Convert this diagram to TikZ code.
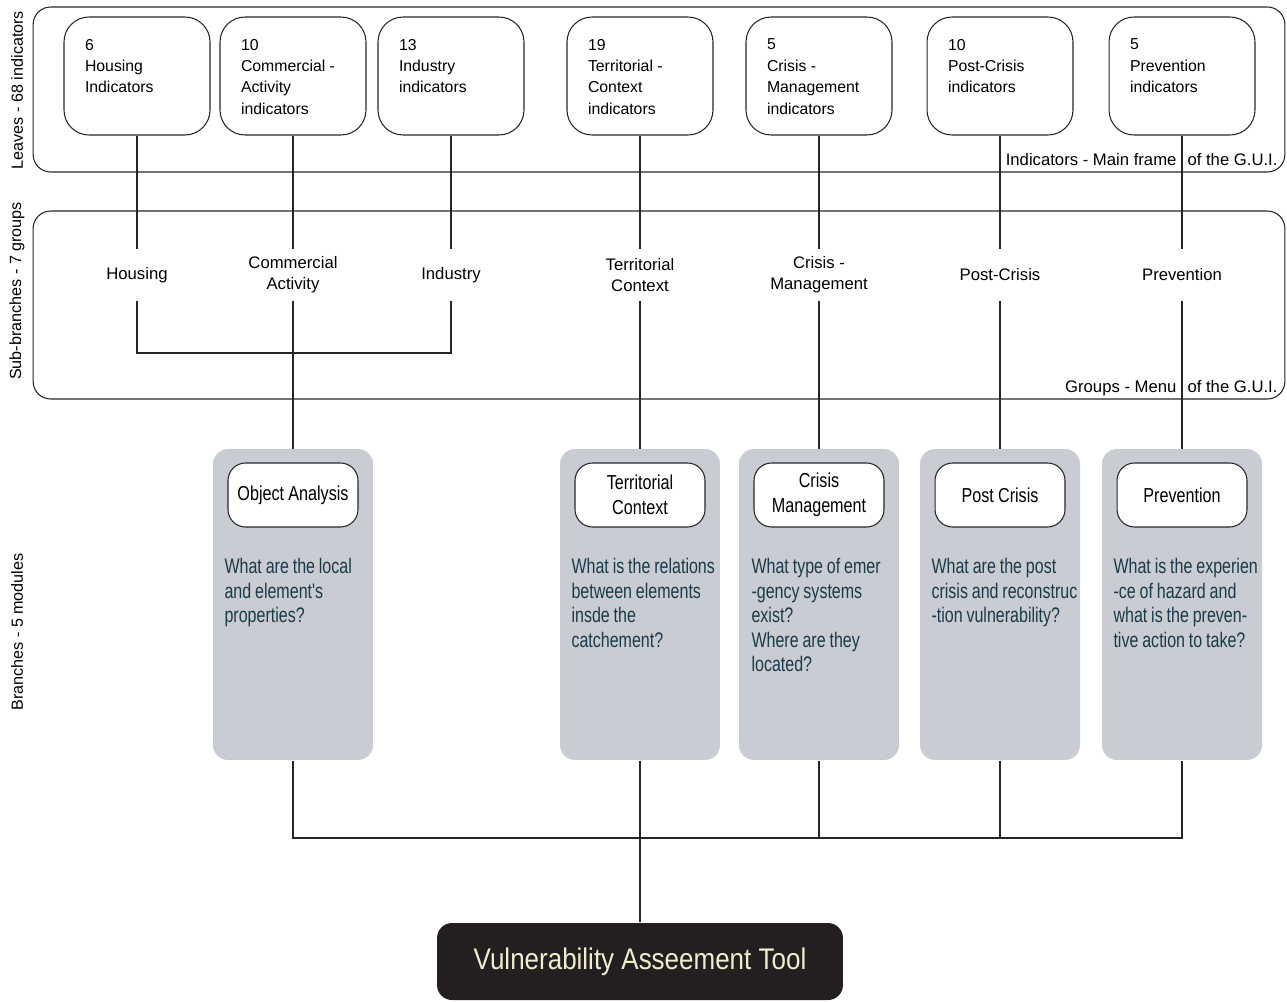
\documentclass[tikz,border=0pt]{standalone}
\usepackage{fontspec}
\setmainfont{Liberation Sans}
\newfontfamily\narrowfont[FakeStretch=0.76]{Liberation Sans}
\newfontfamily\labelfont[FakeStretch=0.80]{Liberation Sans}
\newfontfamily\toolfont[FakeStretch=0.87]{Liberation Sans}
\usepackage{tikz}
\definecolor{modulegray}{RGB}{201,204,211}
\definecolor{questionblue}{RGB}{26,58,74}
\definecolor{tooldark}{RGB}{35,31,32}
\definecolor{toolcream}{RGB}{240,236,205}
\newcommand{\leaftext}[1]{\begin{minipage}[t][1.48cm][t]{2.08cm}\raggedright #1\end{minipage}}
\newcommand{\titlefont}{\labelfont\fontsize{11.5}{14.2}\selectfont\spaceskip 2.4pt plus 1pt\relax}
\newcommand{\questionfont}{\narrowfont\fontsize{12}{13.9}\selectfont\spaceskip 2.2pt plus 1pt minus .5pt\relax}

\begin{document}
\begin{tikzpicture}[x=0.02cm, y=-0.02cm, line width=0.6pt, draw=black!85]
		\tikzstyle{frame_item} = [rectangle, rounded corners=0.35cm, draw, minimum
		width=25.04cm, inner sep=0]
		\tikzstyle{leaf_item} = [rectangle, rounded corners=0.5cm, draw, fill=white,
		inner xsep=0.42cm, inner ysep=0.44cm, font=\fontsize{9}{12.2}\selectfont]
		\tikzstyle{group_item} = [rectangle, minimum height=1cm, inner sep=0,
		align=flush center, font=\fontsize{9.5}{11.9}\selectfont]
		\tikzstyle{module_item} = [rectangle, rounded corners=0.3cm, fill=modulegray,
		minimum width=3.2cm, minimum height=6.22cm, inner sep=0]
		\tikzstyle{title_item} = [rectangle, rounded corners=0.35cm, draw, fill=white,
		minimum width=2.6cm, minimum height=1.28cm, inner sep=0, align=flush center,
		font=\titlefont]
		\tikzstyle{question_item} = [anchor=north west, inner sep=0, text width=3.1cm,
		align=flush left, text=questionblue, font=\questionfont]
		\tikzstyle{tool_item} = [rectangle, rounded corners=0.3cm, fill=tooldark,
		text=toolcream, minimum width=8.12cm, minimum height=1.54cm,
		font=\toolfont\fontsize{17}{20}\selectfont]
		\tikzstyle{side_label} = [rotate=90, inner sep=0, font=\fontsize{9.2}{11}\selectfont]
		\tikzstyle{frame_label} = [inner sep=0, font=\fontsize{9.5}{11}\selectfont]
		\useasboundingbox (0,0) rectangle (1287,1001);
		\node[frame_item, minimum height=3.3cm] (leaves) at (659, 89.5) {};
		\node[frame_item, minimum height=3.76cm] (groups) at (659, 305) {};
		\node[side_label] (leaveslabel) at (17, 90) {Leaves - 68 indicators};
		\node[side_label] (groupslabel) at (17, 291) {Sub-branches - 7 groups};
		\node[side_label] (moduleslabel) at (17, 632) {Branches - 5 modules};
		\node[frame_label, anchor=base east] (leavesnote) at (1177, 165) {Indicators - Main frame};
		\node[frame_label, anchor=base west] (leavesgui) at (1187, 165) {of the G.U.I.};
		\node[frame_label, anchor=base east] (groupsnote) at (1177, 392) {Groups - Menu};
		\node[frame_label, anchor=base west] (groupsgui) at (1187, 392) {of the G.U.I.};
		\node[leaf_item] (lhousing) at (137, 76) {\leaftext{6\\Housing\\Indicators}};
		\node[leaf_item] (lcommercial) at (293, 76) {\leaftext{10\\Commercial -\\Activity\\indicators}};
		\node[leaf_item] (lindustry) at (451, 76) {\leaftext{13\\Industry\\indicators}};
		\node[leaf_item] (lterritorial) at (640, 76) {\leaftext{19\\Territorial -\\Context\\indicators}};
		\node[leaf_item] (lcrisis) at (819, 76) {\leaftext{5\\Crisis -\\Management\\indicators}};
		\node[leaf_item] (lpost) at (1000, 76) {\leaftext{10\\Post-Crisis\\indicators}};
		\node[leaf_item] (lprevention) at (1182, 76) {\leaftext{5\\Prevention\\indicators}};
		\node[group_item] (ghousing) at (137, 275) {Housing};
		\node[group_item] (gcommercial) at (293, 275) {Commercial\\Activity};
		\node[group_item] (gindustry) at (451, 275) {Industry};
		\node[group_item] (gterritorial) at (640, 275) {Territorial\\Context};
		\node[group_item] (gcrisis) at (819, 275) {Crisis -\\Management};
		\node[group_item] (gpost) at (1000, 275) {Post-Crisis};
		\node[group_item] (gprevention) at (1182, 275) {Prevention};
		\coordinate (objjoin) at (293, 353);
		\node[module_item] (mobject) at (293, 604.5) {};
		\node[module_item] (mterritorial) at (640, 604.5) {};
		\node[module_item] (mcrisis) at (819, 604.5) {};
		\node[module_item] (mpost) at (1000, 604.5) {};
		\node[module_item] (mprevention) at (1182, 604.5) {};
		\node[title_item] (tobject) at (293, 495) {Object Analysis};
		\node[title_item] (tterritorial) at (640, 495) {Territorial\\Context};
		\node[title_item] (tcrisis) at (819, 495) {Crisis\\Management};
		\node[title_item] (tpost) at (1000, 495) {Post Crisis};
		\node[title_item] (tprevention) at (1182, 495) {Prevention};
		\node[question_item] (qobject) at (224, 558) {What are the local\\and element's\\properties?};
		\node[question_item] (qterritorial) at (571, 558) {What is the relations\\between elements\\insde the\\catchement?};
		\node[question_item] (qcrisis) at (751, 558) {What type of emer\\-gency systems\\exist?\\Where are they\\located?};
		\node[question_item] (qpost) at (931, 558) {What are the post\\crisis and reconstruc\\-tion vulnerability?};
		\node[question_item] (qprevention) at (1113, 558) {What is the experien\\-ce of hazard and\\what is the preven-\\tive action to take?};
		\coordinate (bus) at (640, 838);
		\node[tool_item] (tool) at (640, 961.5) {Vulnerability Asseement Tool};
		\draw (lhousing.south) -- (ghousing.north);
		\draw (lcommercial.south) -- (gcommercial.north);
		\draw (lindustry.south) -- (gindustry.north);
		\draw (lterritorial.south) -- (gterritorial.north);
		\draw (lcrisis.south) -- (gcrisis.north);
		\draw (lpost.south) -- (gpost.north);
		\draw (lprevention.south) -- (gprevention.north);
		\draw (ghousing.south) |- (objjoin) -| (gindustry.south);
		\draw (gcommercial.south) -- (mobject.north);
		\draw (gterritorial.south) -- (mterritorial.north);
		\draw (gcrisis.south) -- (mcrisis.north);
		\draw (gpost.south) -- (mpost.north);
		\draw (gprevention.south) -- (mprevention.north);
		\draw (mobject.south) |- (bus) -| (mprevention.south);
		\draw (mcrisis.south) -- (mcrisis.south |- bus);
		\draw (mpost.south) -- (mpost.south |- bus);
		\draw (mterritorial.south) -- (tool.north);
	\end{tikzpicture}
\end{document}
